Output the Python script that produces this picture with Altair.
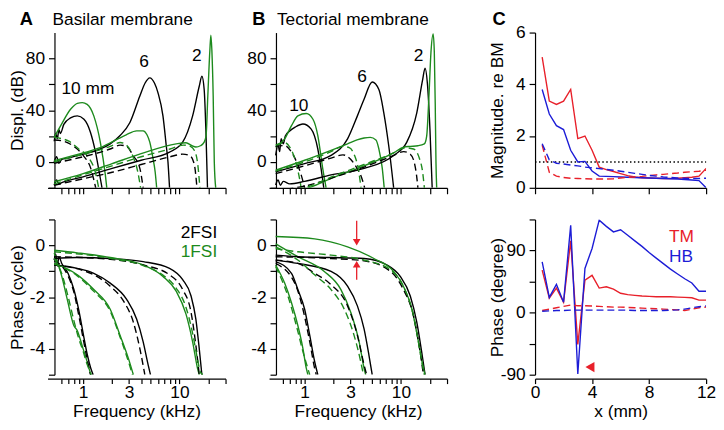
import altair as alt
import pandas as pd

BLACK = "#000000"
GREEN = "#1d8a1d"
RED = "#e8202a"
BLUE = "#1c1cd6"
FONT = "Liberation Sans"
FS = 17.5

# ---------------- Panel A (basilar membrane), magnitude in dB: (kHz, dB) ----------------
A_MAG_2FSI_SOLID_10 = [(0.50, 16), (0.52, 22), (0.54, 18), (0.56, 25), (0.58, 22), (0.63, 29), (0.74, 34), (0.87, 35.6), (1.02, 33), (1.19, 23), (1.34, 8), (1.51, -13), (1.57, -20)]
A_MAG_1FSI_SOLID_10 = [(0.50, 19), (0.585, 28), (0.74, 40.7), (0.87, 45.3), (0.98, 45.8), (1.10, 44.5), (1.29, 35.6), (1.51, 15), (1.70, -10), (1.76, -20)]
A_MAG_2FSI_DASH_10 = [(0.50, 17), (0.63, 16), (0.80, 12), (1.0, 5), (1.2, -5), (1.35, -20)]
A_MAG_1FSI_DASH_10 = [(0.50, 19), (0.71, 16), (0.90, 10), (1.15, 3), (1.35, -9), (1.45, -20)]
A_MAG_2FSI_SOLID_6 = [(0.50, 0), (0.53, 4), (0.56, -1), (0.60, 2), (0.70, 3), (1.0, 6), (1.5, 10), (1.91, 14), (2.42, 20.4), (3.06, 30.5), (3.88, 50.9), (4.4, 61), (4.92, 65), (5.5, 61), (5.99, 53.4), (6.74, 35.6), (7.29, 12.7), (7.6, 0), (7.89, -20)]
A_MAG_1FSI_SOLID_6 = [(0.50, 1), (1.0, 7), (1.5, 11), (2.0, 15.5), (2.8, 21), (3.6, 24), (4.2, 24), (4.6, 21), (4.92, 15.3), (5.32, 2.5), (5.6, -8), (5.8, -20)]
A_MAG_2FSI_DASH_6 = [(0.50, -1), (1.0, 4), (1.91, 10), (2.42, 13), (2.83, 12), (3.3, 5), (3.88, -5), (4.2, -20)]
A_MAG_1FSI_DASH_6 = [(0.50, 0), (1.0, 6), (1.91, 12), (2.42, 15), (2.9, 12), (3.3, 4), (3.7, -8), (3.95, -20)]
A_MAG_2FSI_SOLID_2 = [(0.50, -18), (0.53, -14), (0.56, -17), (0.60, -16), (1.0, -11.5), (2.0, -5), (4.0, 1.3), (7.89, 7.6), (10.8, 15.3), (13.7, 35.6), (16.05, 58.5), (17.1, 66.2), (18.06, 56), (18.8, 25.4), (19.55, -20)]
A_MAG_1FSI_SOLID_2 = [(0.50, -15.3), (1.0, -9), (2.0, -1.3), (4.0, 6.4), (9.24, 14), (11.7, 14.8), (13.5, 12.5), (14.8, 11.5), (16.5, 12.5), (18.06, 15.3), (18.9, 20.4), (19.7, 50.9), (20.7, 86.5), (21.2, 98), (21.7, 86.5), (22.4, 51), (23.0, 0), (23.8, -20)]
A_MAG_2FSI_DASH_2 = [(0.50, -18), (1.0, -13), (2.0, -8), (4.0, -2), (8.0, 4), (10.8, 6), (12.7, 5), (13.7, 2), (14.5, -5), (15.2, -20)]
A_MAG_1FSI_DASH_2 = [(0.50, -17), (1.0, -10), (2.0, -3), (4.0, 4), (8.0, 10), (11.0, 13), (13.0, 12), (14.5, 8), (15.5, -2), (16.3, -20)]

# ---------------- Panel B (tectorial membrane), magnitude in dB ----------------
B_MAG_2FSI_SOLID_10 = [(0.50, 5), (0.53, 13), (0.55, 8), (0.57, 18), (0.60, 14), (0.63, 20), (0.70, 24), (0.80, 27), (0.96, 29.3), (1.17, 25.4), (1.37, 10), (1.48, -5), (1.58, -20)]
B_MAG_1FSI_SOLID_10 = [(0.50, 11.5), (0.62, 17.8), (0.73, 28), (0.85, 35.6), (1.04, 37.4), (1.22, 33), (1.37, 20.4), (1.54, -5), (1.67, -20)]
B_MAG_2FSI_DASH_10 = [(0.50, 12), (0.62, 12.7), (0.73, 7.6), (0.85, -2.5), (0.92, -10), (1.0, -20)]
B_MAG_1FSI_DASH_10 = [(0.50, 13), (0.62, 15), (0.70, 11.5), (0.80, 1.3), (0.87, -10), (0.92, -20)]
B_MAG_2FSI_SOLID_6 = [(0.50, -7.6), (1.0, -1.3), (1.88, 5.1), (2.79, 17.8), (3.53, 35.6), (4.14, 48.4), (5.03, 61.8), (5.9, 56), (6.63, 38.2), (7.46, 12.7), (8.4, -20)]
B_MAG_1FSI_SOLID_6 = [(0.50, -6.4), (1.0, 1.3), (1.88, 9), (2.79, 14), (3.5, 17), (4.14, 18.5), (4.8, 19), (5.5, 17), (5.9, 10), (6.4, -5), (6.7, -20)]
B_MAG_2FSI_DASH_6 = [(0.50, -9), (1.0, -3), (1.88, 3), (2.5, 5.5), (3.0, 2), (3.5, -5), (3.9, -12), (4.2, -20)]
B_MAG_1FSI_DASH_6 = [(0.50, -7), (1.0, 0), (1.88, 8), (2.5, 12), (2.9, 11), (3.3, 5), (3.6, -5), (3.85, -20)]
B_MAG_2FSI_SOLID_2 = [(0.50, -17.8), (0.53, -14), (0.56, -18), (0.60, -15), (0.70, -17), (1.0, -15), (1.88, -10), (4.14, -5), (8.4, 5), (11.5, 15.3), (14.6, 38), (16.8, 63.6), (17.8, 72.5), (18.8, 61), (20.0, 25.4), (21.1, -20)]
B_MAG_1FSI_SOLID_2 = [(0.50, -26), (1.1, -20), (2.0, -12), (4.14, -3), (8.4, 7), (10.7, 11.5), (12.5, 12), (15.0, 12.5), (17.5, 14), (18.5, 20), (19.5, 50), (20.5, 85), (21.6, 99), (22.2, 85), (22.7, 45), (23.1, 0), (23.5, -20)]
B_MAG_2FSI_DASH_2 = [(0.50, -22), (1.1, -18), (2.0, -12), (4.14, -4), (8.4, 5), (10.7, 8), (12.5, 6), (13.7, 0), (14.5, -10), (15.0, -20)]
B_MAG_1FSI_DASH_2 = [(0.50, -24), (1.1, -19), (2.0, -11), (4.14, -2), (8.4, 7), (11.0, 11), (13.5, 10), (15.5, 3), (16.8, -8), (17.5, -20)]

# ---------------- Panel A, phase in cycles ----------------
A_PH_2FSI_SOLID_10 = [(0.50, -0.57), (0.52, -0.35), (0.54, -0.8), (0.56, -0.45), (0.60, -0.7), (0.70, -1.1), (0.80, -1.7), (0.90, -2.5), (1.0, -3.4), (1.1, -4.2), (1.2, -4.75), (1.27, -5.0)]
A_PH_1FSI_SOLID_10 = [(0.50, -0.3), (0.60, -1.2), (0.685, -2.1), (0.80, -3.1), (0.87, -3.3), (0.98, -3.9), (1.12, -4.6), (1.2, -5.0)]
A_PH_2FSI_DASH_10 = [(0.50, -0.6), (0.60, -0.8), (0.70, -1.2), (0.80, -1.8), (0.90, -2.7), (1.0, -3.6), (1.1, -4.4), (1.19, -5.0)]
A_PH_1FSI_DASH_10 = [(0.50, -0.5), (0.60, -1.1), (0.70, -2.0), (0.80, -2.9), (0.90, -3.6), (1.0, -4.1), (1.1, -4.6), (1.22, -5.0)]
A_PH_2FSI_SOLID_6 = [(0.50, -0.76), (0.87, -0.89), (1.29, -1.08), (1.91, -1.46), (2.83, -2.09), (3.59, -2.85), (4.2, -3.73), (4.73, -4.62), (5.0, -5.0)]
A_PH_2FSI_DASH_6 = [(0.50, -0.76), (1.29, -1.14), (1.91, -1.58), (2.62, -2.15), (3.32, -2.97), (3.88, -3.99), (4.37, -5.0)]
A_PH_1FSI_SOLID_6 = [(0.50, -0.7), (0.87, -1.14), (1.29, -1.71), (1.91, -2.47), (2.42, -3.48), (2.95, -4.37), (3.32, -5.0)]
A_PH_1FSI_DASH_6 = [(0.50, -0.72), (0.87, -1.18), (1.29, -1.78), (1.91, -2.55), (2.42, -3.55), (2.9, -4.4), (3.25, -5.0)]
A_PH_2FSI_SOLID_2 = [(0.50, -0.51), (0.87, -0.47), (1.91, -0.51), (4.2, -0.63), (7.89, -0.89), (10.8, -1.33), (13.2, -1.96), (14.8, -2.85), (16.05, -3.99), (17.1, -5.0)]
A_PH_2FSI_DASH_2 = [(0.50, -0.44), (1.91, -0.54), (4.2, -0.76), (7.89, -1.14), (10.8, -1.71), (13.2, -2.59), (14.8, -3.86), (16.05, -5.0)]
A_PH_1FSI_SOLID_2 = [(0.50, -0.19), (0.87, -0.29), (1.91, -0.47), (4.2, -0.76), (6.74, -1.2), (9.24, -1.77), (11.7, -2.66), (13.7, -3.73), (15.4, -4.75), (16.05, -5.0)]
A_PH_1FSI_DASH_2 = [(0.50, -0.25), (1.91, -0.5), (4.2, -0.78), (6.74, -1.15), (9.24, -1.65), (11.7, -2.4), (13.7, -3.4), (15.4, -4.4), (16.5, -4.9), (17.5, -5.0)]

# ---------------- Panel B, phase in cycles ----------------
B_PH_1FSI_SOLID_2 = [(0.50, 0.34), (1.27, 0.25), (2.79, -0.06), (5.24, -0.51), (8.4, -1.01), (10.6, -1.58), (13.0, -2.47), (15.2, -3.73), (17.1, -4.75), (17.8, -5.0)]
B_PH_2FSI_SOLID_2 = [(0.50, -0.38), (0.85, -0.44), (1.88, -0.47), (4.14, -0.51), (7.18, -0.76), (9.83, -1.2), (12.5, -1.96), (14.6, -2.97), (16.4, -4.11), (17.8, -5.0)]
B_PH_2FSI_DASH_2 = [(0.50, -0.44), (1.88, -0.51), (4.14, -0.6), (7.8, -1.01), (10.6, -1.71), (13.5, -2.72), (15.8, -4.11), (17.1, -5.0)]
B_PH_1FSI_DASH_2 = [(0.50, -0.13), (0.85, -0.25), (1.88, -0.38), (4.14, -0.57), (7.8, -0.95), (10.6, -1.58), (13.5, -2.72), (15.8, -4.11), (17.4, -5.0)]
B_PH_1FSI_SOLID_6 = [(0.50, 0.06), (0.85, -0.44), (1.6, -1.01), (2.38, -1.71), (3.01, -2.59), (3.68, -3.73), (4.14, -4.75), (4.3, -5.0)]
B_PH_1FSI_DASH_6 = [(0.50, -0.06), (0.85, -0.57), (1.27, -1.14), (1.88, -1.71), (2.58, -2.47), (3.26, -3.48), (3.82, -4.49), (4.07, -5.0)]
B_PH_2FSI_DASH_6 = [(0.50, -0.57), (0.85, -0.7), (1.27, -1.08), (1.88, -1.52), (2.79, -2.34), (3.53, -3.48), (4.14, -4.62), (4.4, -5.0)]
B_PH_2FSI_SOLID_6 = [(0.50, -0.57), (0.85, -0.7), (1.88, -1.01), (2.79, -1.58), (3.53, -2.34), (4.14, -3.23), (4.65, -4.24), (5.03, -5.0)]
B_PH_2FSI_SOLID_10 = [(0.50, -0.63), (0.73, -1.08), (0.85, -1.71), (1.0, -2.47), (1.13, -3.48), (1.27, -4.49), (1.37, -5.0)]
B_PH_2FSI_DASH_10 = [(0.50, -0.7), (0.79, -1.46), (0.96, -2.47), (1.13, -3.73), (1.27, -4.75), (1.32, -5.0)]
B_PH_1FSI_SOLID_10 = [(0.50, -0.76), (0.62, -1.46), (0.73, -2.22), (0.85, -3.1), (0.96, -3.99), (1.04, -4.75), (1.08, -5.0)]
B_PH_1FSI_DASH_10 = [(0.50, -0.82), (0.67, -1.96), (0.82, -3.1), (0.96, -4.11), (1.13, -5.0)]

# ---------------- Panel C: ratios vs. place x (mm) ----------------
C_X = [0.5, 1.0, 1.5, 2.0, 2.5, 3.0, 3.5, 4.0, 4.5, 5.0, 5.5, 6.0, 6.5, 7.0, 7.5, 8.0, 8.5, 9.0, 9.5, 10.0, 10.5, 11.0, 11.5, 12.0]
C_MAG_TM_SOLID = [5.05, 3.35, 3.22, 3.35, 3.8, 1.9, 2.0, 1.45, 0.8, 0.7, 0.63, 0.55, 0.47, 0.42, 0.39, 0.38, 0.37, 0.36, 0.36, 0.37, 0.39, 0.41, 0.45, 0.75]
C_MAG_HB_SOLID = [3.8, 2.85, 2.4, 2.25, 1.45, 1.0, 1.02, 0.65, 0.45, 0.44, 0.43, 0.42, 0.41, 0.4, 0.39, 0.38, 0.37, 0.36, 0.35, 0.34, 0.32, 0.3, 0.28, 0.0]
C_MAG_TM_DASH = [1.65, 0.6, 0.45, 0.4, 0.37, 0.36, 0.35, 0.34, 0.34, 0.34, 0.35, 0.38, 0.4, 0.42, 0.44, 0.47, 0.5, 0.52, 0.55, 0.57, 0.6, 0.62, 0.64, 0.68]
C_MAG_HB_DASH = [1.7, 1.08, 0.95, 0.92, 0.88, 0.85, 0.8, 0.77, 0.74, 0.71, 0.68, 0.64, 0.6, 0.56, 0.52, 0.48, 0.45, 0.42, 0.4, 0.38, 0.37, 0.36, 0.36, 0.37]
C_PH_TM_SOLID = [61.6, 21, 35.5, 15, 104, -46, 47, 54, 35.5, 37.4, 34, 28, 26, 25, 24, 23.5, 23, 23, 23, 22.5, 22, 21.5, 18, 18]
C_PH_HB_SOLID = [73.5, 22, 41, 15, 126.5, -89, 64, 93, 134, 125, 117, 120, 112, 104, 96, 87, 79, 71, 63, 56, 49, 43, 31, 31]
C_PH_TM_DASH = [3, 5, 7, 9, 11, 10, 10, 9.5, 9, 8.5, 8, 8, 7.5, 7, 6.5, 6, 5.5, 5, 4.5, 4, 3, 5, 7, 8]
C_PH_HB_DASH = [2, 2.5, 3, 3, 3.5, 3.5, 3.5, 3.5, 3.5, 3.5, 3.5, 3.5, 3.5, 3, 3, 3, 3, 3, 3.5, 4, 5, 7, 8.5, 9.5]

# ---------------- annotations ----------------
A_MAG_LABELS = [("10 mm", 1.12, 56.6), ("6", 4.3, 77), ("2", 15.1, 81.7)]
B_MAG_LABELS = [("10", 0.87, 43), ("6", 3.94, 65.7), ("2", 15.2, 81.7)]
MODEL_LEGEND = [("2FSI", 10.3, 0.49, BLACK), ("1FSI", 10.3, -0.27, GREEN)]
C_LEGEND = [("TM", 9.4, 110, RED), ("HB", 9.4, 81, BLUE)]
B_ARROW_F = 3.47
B_ARROW_RULES = [(0.95, 0.12), (-1.33, -0.73)]
B_ARROW_HEADS = [(0.12, "triangle-down"), (-0.73, "triangle-up")]
C_ARROW_HEAD = (3.85, -79)
C_UNITY = 1.0

XT = [0.6, 0.7, 0.8, 0.9, 1, 2, 3, 4, 5, 6, 7, 8, 9, 10, 20, 30]


def curve_frame(entries):
    rows = []
    for model, style, loc, pts in entries:
        col = BLACK if model == "2FSI" else GREEN
        for i, (f, v) in enumerate(pts):
            rows.append({"curve": f"{model}|{style}|{loc}", "style": style, "color": col, "f": f, "v": v, "i": i})
    return pd.DataFrame(rows)


def set_of(prefix, g):
    return [
        ("2FSI", "solid", "10", g[prefix + "_2FSI_SOLID_10"]), ("1FSI", "solid", "10", g[prefix + "_1FSI_SOLID_10"]),
        ("2FSI", "dash", "10", g[prefix + "_2FSI_DASH_10"]), ("1FSI", "dash", "10", g[prefix + "_1FSI_DASH_10"]),
        ("2FSI", "solid", "6", g[prefix + "_2FSI_SOLID_6"]), ("1FSI", "solid", "6", g[prefix + "_1FSI_SOLID_6"]),
        ("2FSI", "dash", "6", g[prefix + "_2FSI_DASH_6"]), ("1FSI", "dash", "6", g[prefix + "_1FSI_DASH_6"]),
        ("2FSI", "solid", "2", g[prefix + "_2FSI_SOLID_2"]), ("1FSI", "solid", "2", g[prefix + "_1FSI_SOLID_2"]),
        ("2FSI", "dash", "2", g[prefix + "_2FSI_DASH_2"]), ("1FSI", "dash", "2", g[prefix + "_1FSI_DASH_2"]),
    ]


G = globals()
df_a_mag = curve_frame(set_of("A_MAG", G))
df_b_mag = curve_frame(set_of("B_MAG", G))
df_a_ph = curve_frame(set_of("A_PH", G))
df_b_ph = curve_frame(set_of("B_PH", G))

W_AB, W_C, H = 180, 173, 157


def xfreq(bottom):
    kw = dict(values=XT, grid=False, labelFlush=False, labelOverlap=False, tickSize=6)
    if bottom:
        kw.update(labelExpr="(datum.value==1||datum.value==3||datum.value==10) ? toString(datum.value) : ''",
                  title="Frequency (kHz)", offset=4, tickSize=5, labelPadding=0, titlePadding=2)
        return alt.X("f:Q", scale=alt.Scale(type="log", domain=[0.427, 30.1], nice=False), axis=alt.Axis(**kw))
    kw.update(labels=False)
    return alt.X("f:Q", scale=alt.Scale(type="log", domain=[0.427, 30.1], nice=False), axis=alt.Axis(**kw), title=None)


def yaxis(domain, values, expr, title, title_x=None, offset=0):
    kw = dict(values=values, labelExpr=expr, grid=False, offset=offset, tickSize=6, labelPadding=4, labelFlush=False)
    if title:
        kw.update(title=title, titleX=title_x, titleY=H / 2, titleAngle=270, titleBaseline="alphabetic", titleAlign="center")
        return alt.Y("v:Q", scale=alt.Scale(domain=domain, nice=False, zero=False), axis=alt.Axis(**kw))
    return alt.Y("v:Q", scale=alt.Scale(domain=domain, nice=False, zero=False), axis=alt.Axis(**kw), title=None)


def curves(df, x, y):
    base = alt.Chart(df).encode(x=x, y=y, color=alt.Color("color:N", scale=None), detail="curve:N", order="i:Q")
    solid = base.transform_filter(alt.datum.style == "solid").mark_line(clip=True, strokeWidth=1.4, interpolate="monotone")
    dash = base.transform_filter(alt.datum.style == "dash").mark_line(clip=True, strokeWidth=1.4, interpolate="monotone", strokeDash=[7, 4])
    return [solid, dash]


def text_layer(rows, x, y, align="center", colored=False):
    if colored:
        df = pd.DataFrame([{"t": t, "f": f, "v": v, "c": c} for t, f, v, c in rows])
        return alt.Chart(df).mark_text(font=FONT, fontSize=FS, align=align, baseline="middle").encode(
            x=x, y=y, text="t:N", color=alt.Color("c:N", scale=None))
    df = pd.DataFrame([{"t": t, "f": f, "v": v} for t, f, v in rows])
    return alt.Chart(df).mark_text(font=FONT, fontSize=FS, align=align, baseline="middle", color=BLACK).encode(x=x, y=y, text="t:N")


def panel_title(letter, name, dx_letter, dx_name):
    one = pd.DataFrame({"t": [letter]})
    layers = [alt.Chart(one).mark_text(font=FONT, fontSize=FS + 1, fontWeight="bold", align="left", baseline="alphabetic", color=BLACK)
              .encode(text="t:N", x=alt.value(dx_letter), y=alt.value(-8))]
    if name:
        two = pd.DataFrame({"t": [name]})
        layers.append(alt.Chart(two).mark_text(font=FONT, fontSize=FS, align="left", baseline="alphabetic", color=BLACK)
                      .encode(text="t:N", x=alt.value(dx_name), y=alt.value(-8)))
    return layers


MAG_EXPR = "datum.value % 40 == 0 ? toString(datum.value) : ''"
PH_EXPR = "datum.value % 2 == 0 ? toString(datum.value) : ''"

# ---- A top ----
xa_t, ya_t = xfreq(False), yaxis([-20, 100], [-20, 0, 20, 40, 60, 80], MAG_EXPR, "Displ. (dB)", -32, -7)
a_top = alt.layer(*curves(df_a_mag, xa_t, ya_t), text_layer(A_MAG_LABELS, xa_t, ya_t),
                  *panel_title("A", "Basilar membrane", -28, 5)).properties(width=W_AB, height=H)
# ---- A bottom ----
xa_b, ya_b = xfreq(True), yaxis([-5, 1], [-5, -4, -3, -2, -1, 0, 1], PH_EXPR, "Phase (cycle)", -32, -7)
a_bot = alt.layer(*curves(df_a_ph, xa_b, ya_b), text_layer(MODEL_LEGEND, xa_b, ya_b, align="left", colored=True)).properties(width=W_AB, height=H)

# ---- B top ----
xb_t, yb_t = xfreq(False), yaxis([-20, 100], [-20, 0, 20, 40, 60, 80], MAG_EXPR, None, None, -7)
b_top = alt.layer(*curves(df_b_mag, xb_t, yb_t), text_layer(B_MAG_LABELS, xb_t, yb_t),
                  *panel_title("B", "Tectorial membrane", -17, 8)).properties(width=W_AB, height=H)
# ---- B bottom ----
xb_b, yb_b = xfreq(True), yaxis([-5, 1], [-5, -4, -3, -2, -1, 0, 1], PH_EXPR, None, None, -7)
arrow_rules = pd.DataFrame([{"f": B_ARROW_F, "v": a, "v2": b} for a, b in B_ARROW_RULES])
arrow_heads = pd.DataFrame([{"f": B_ARROW_F, "v": v, "s": s} for v, s in B_ARROW_HEADS])
b_rules = alt.Chart(arrow_rules).mark_rule(color=RED, strokeWidth=1.3).encode(x=xb_b, y=yb_b, y2="v2:Q")
b_heads = alt.Chart(arrow_heads).mark_point(filled=True, color=RED, size=60, opacity=1).encode(
    x=xb_b, y=yb_b, shape=alt.Shape("s:N", scale=None))
b_bot = alt.layer(*curves(df_b_ph, xb_b, yb_b), b_rules, b_heads).properties(width=W_AB, height=H)

# ---- C ----
c_rows = []
for series, style, col, vals in [("TM", "solid", RED, C_MAG_TM_SOLID), ("HB", "solid", BLUE, C_MAG_HB_SOLID),
                                  ("TM", "dash", RED, C_MAG_TM_DASH), ("HB", "dash", BLUE, C_MAG_HB_DASH)]:
    for i, (xv, v) in enumerate(zip(C_X, vals)):
        c_rows.append({"curve": series + style, "style": style, "color": col, "f": xv, "v": v, "i": i})
df_c_mag = pd.DataFrame(c_rows)
c_rows = []
for series, style, col, vals in [("TM", "solid", RED, C_PH_TM_SOLID), ("HB", "solid", BLUE, C_PH_HB_SOLID),
                                  ("TM", "dash", RED, C_PH_TM_DASH), ("HB", "dash", BLUE, C_PH_HB_DASH)]:
    for i, (xv, v) in enumerate(zip(C_X, vals)):
        c_rows.append({"curve": series + style, "style": style, "color": col, "f": xv, "v": v, "i": i})
df_c_ph = pd.DataFrame(c_rows)


def xmm(bottom):
    kw = dict(values=[0, 4, 8, 12], grid=False, tickSize=6, labelFlush=False)
    if bottom:
        kw.update(title="x (mm)", offset=4, tickSize=5, labelPadding=0, titlePadding=2, labelExpr="toString(datum.value)")
        return alt.X("f:Q", scale=alt.Scale(domain=[0, 12], nice=False), axis=alt.Axis(**kw))
    kw.update(labels=False)
    return alt.X("f:Q", scale=alt.Scale(domain=[0, 12], nice=False), axis=alt.Axis(**kw), title=None)


def c_curves(df, x, y):
    base = alt.Chart(df).encode(x=x, y=y, color=alt.Color("color:N", scale=None), detail="curve:N", order="i:Q")
    solid = base.transform_filter(alt.datum.style == "solid").mark_line(clip=True, strokeWidth=1.4)
    dash = base.transform_filter(alt.datum.style == "dash").mark_line(clip=True, strokeWidth=1.4, strokeDash=[7, 4])
    return [solid, dash]


xc_t = xmm(False)
yc_t = yaxis([0, 6], [0, 2, 4, 6], "toString(datum.value)", "Magnitude. re BM", -33)
unity = pd.DataFrame({"f": [0.0], "f2": [12.0], "v": [C_UNITY]})
c_unity = alt.Chart(unity).mark_rule(color=BLACK, strokeWidth=1.5, strokeDash=[1.5, 2.5]).encode(x=xc_t, x2="f2:Q", y=yc_t)
c_top = alt.layer(c_unity, *c_curves(df_c_mag, xc_t, yc_t), *panel_title("C", None, -43, 0)).properties(width=W_C, height=H)

xc_b = xmm(True)
yc_b = yaxis([-90, 135], [-90, -45, 0, 45, 90, 135], "datum.value % 90 == 0 ? toString(datum.value) : ''", "Phase (degree)", -33)
c_head = alt.Chart(pd.DataFrame({"f": [C_ARROW_HEAD[0]], "v": [C_ARROW_HEAD[1]]})).mark_point(
    shape="triangle-left", filled=True, color=RED, size=110, opacity=1).encode(x=xc_b, y=yc_b)
c_bot = alt.layer(*c_curves(df_c_ph, xc_b, yc_b), text_layer(C_LEGEND, xc_b, yc_b, align="left", colored=True), c_head).properties(width=W_C, height=H)


def spacer():
    return alt.Chart(pd.DataFrame({"z": [0]})).mark_point(opacity=0).encode(
        x=alt.value(0), y=alt.value(0)).properties(width=1, height=H)


chart = alt.concat(a_top, b_top, spacer(), c_top, a_bot, b_bot, spacer(), c_bot, columns=4,
                   spacing=alt.RowColnumber(row=32, column=44), bounds="flush").properties(
    autosize=alt.AutoSizeParams(type="none"),
    padding={"left": 40, "top": 22.5, "right": 676, "bottom": 391.5}, background="white"
).configure_view(stroke=None).configure_axis(
    labelFont=FONT, titleFont=FONT, labelFontSize=FS, titleFontSize=FS, titleFontWeight="normal",
    labelColor=BLACK, titleColor=BLACK, domainColor=BLACK, tickColor=BLACK, domainWidth=1.2, tickWidth=1.2
)

chart.save("out.html", embed_options={"renderer": "svg", "actions": False})
